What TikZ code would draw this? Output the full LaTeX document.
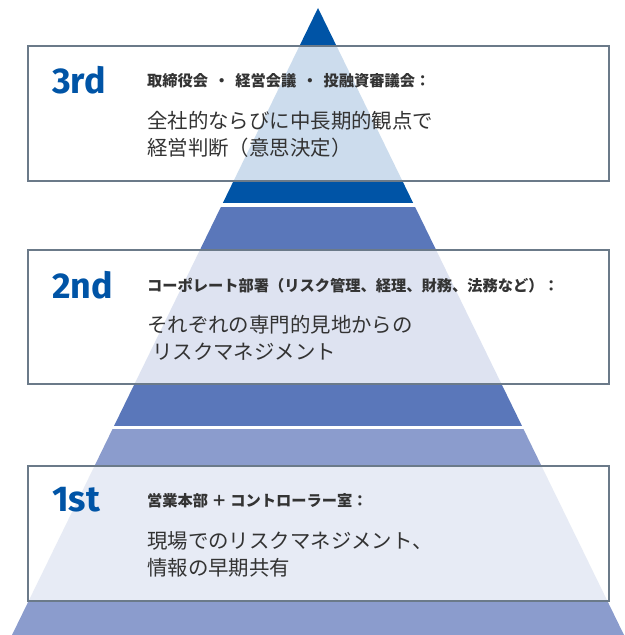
\documentclass[tikz,border=0pt]{standalone}
\usepackage{fontspec}
\setmainfont{Noto Sans CJK JP}
\newfontfamily\numfont{Fira Sans Bold}
\definecolor{tierdark}{HTML}{0054A6}
\definecolor{tiermid}{HTML}{5A77BA}
\definecolor{tierlight}{HTML}{8B9CCD}
\definecolor{frame}{HTML}{6B7A89}
\definecolor{ink}{HTML}{333333}

\begin{document}
\begin{tikzpicture}[x=1bp,y=-1bp,
  tierbox/.style={draw=frame,line width=1.5bp,fill=white,fill opacity=0.8,minimum width=581bp,minimum height=135bp,inner sep=0pt},
  tiernum/.style={anchor=west,inner sep=0pt,text=tierdark,font=\numfont\fontsize{36}{36}\selectfont},
  tierhead/.style={anchor=west,inner sep=0pt,text=ink,font=\bfseries\fontsize{15.3}{15.3}\selectfont},
  tierbody/.style={anchor=north west,inner sep=0pt,align=left,text=ink,font=\fontsize{20.5}{27}\selectfont}]
\useasboundingbox (0,0) rectangle (625,635);
% pyramid
\coordinate (apex) at (318,8);
\coordinate (baseL) at (12,635);
\coordinate (baseR) at (624,635);
\begin{scope}
\clip (apex) -- (baseL) -- (baseR) -- cycle;
\fill[tierdark] (0,0) rectangle (625,203);
\fill[tiermid] (0,207) rectangle (625,426);
\fill[tierlight] (0,429) rectangle (625,635);
\end{scope}
% boxes
\node[tierbox] (box3) at (318.5,113.5) {};
\node[tierbox,minimum height=134bp] (box2) at (318.5,317) {};
\node[tierbox] (box1) at (318.5,533.5) {};
% 3rd
\node[tiernum] (n3) at (52,80) {3rd};
\node[tierhead] (h3) at (147,81) {取締役会\hspace{6bp}・\hspace{6bp}経営会議\hspace{6bp}・\hspace{6bp}投融資審議会：};
\node[tierbody] (b3) at (147,111) {全社的ならびに中長期的観点で\\経営判断（意思決定）};
% 2nd
\node[tiernum] (n2) at (52,285) {2nd};
\node[tierhead] (h2) at (147,286) {コーポレート部署（リスク管理、経理、財務、法務など）：};
\node[tierbody] (b2) at (147,315) {それぞれの専門的見地からの\\\hspace*{5bp}リスクマネジメント};
% 1st
\node[tiernum] (n1) at (52,500) {1st};
\node[tierhead] (h1) at (147,501) {営業本部 ＋ コントローラー室：};
\node[tierbody] (b1) at (147,531) {現場でのリスクマネジメント、\\情報の早期共有};
\end{tikzpicture}
\end{document}
